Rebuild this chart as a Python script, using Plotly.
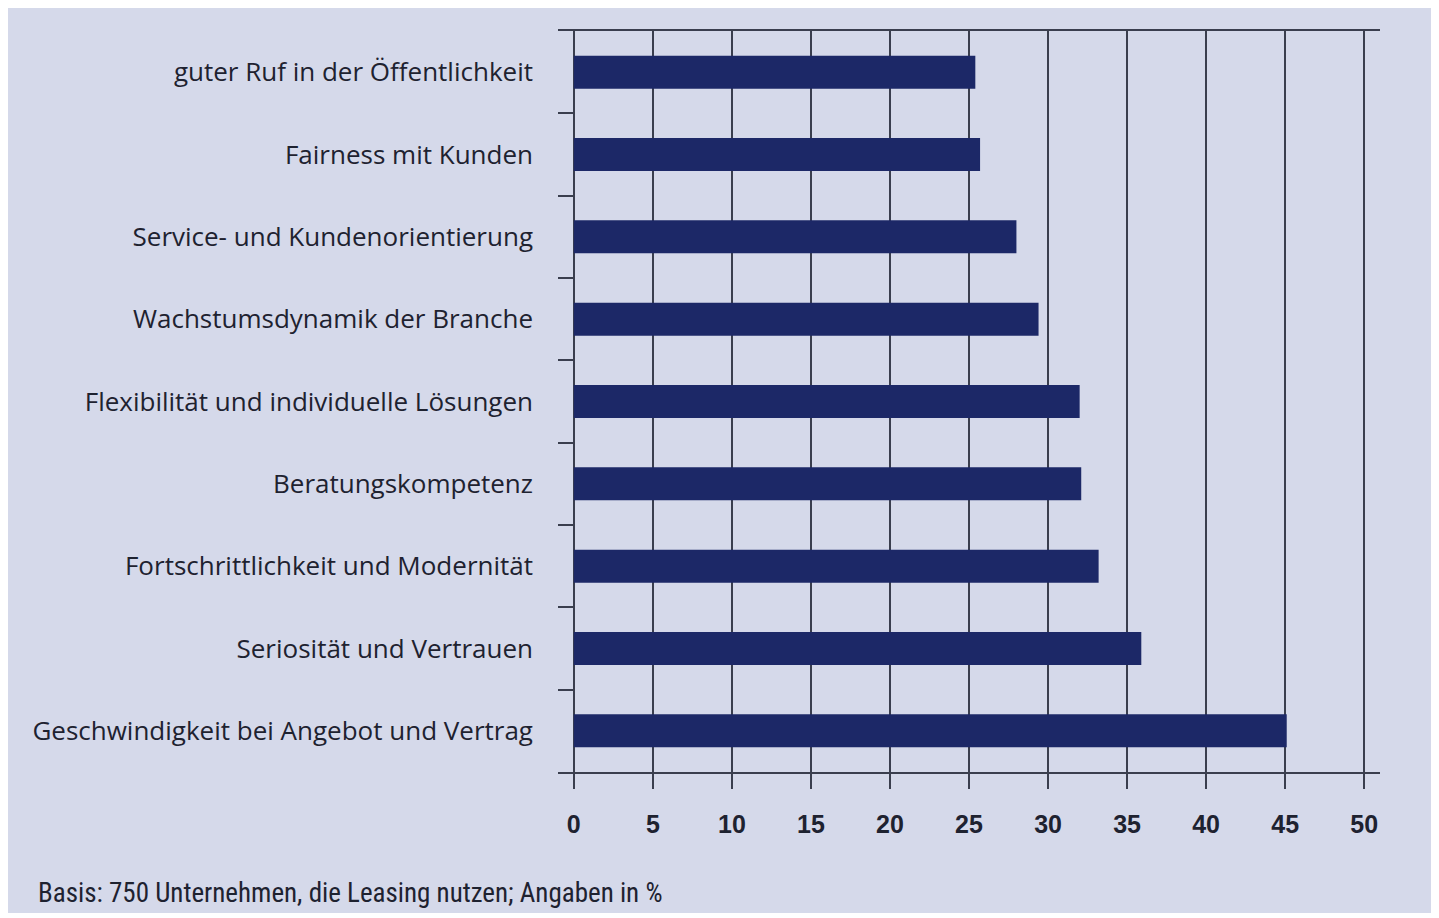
import plotly.graph_objects as go

categories = [
    "guter Ruf in der Öffentlichkeit",
    "Fairness mit Kunden",
    "Service- und Kundenorientierung",
    "Wachstumsdynamik der Branche",
    "Flexibilität und individuelle Lösungen",
    "Beratungskompetenz",
    "Fortschrittlichkeit und Modernität",
    "Seriosität und Vertrauen",
    "Geschwindigkeit bei Angebot und Vertrag",
]
values = [25.4, 25.7, 28.0, 29.4, 32.0, 32.1, 33.2, 35.9, 45.1]
x_ticks = [0, 5, 10, 15, 20, 25, 30, 35, 40, 45, 50]
footnote = "Basis: 750 Unternehmen, die Leasing nutzen; Angaben in %"

BG = "#d5d9ea"
BAR = "#1c2867"
LINE = "#3a3e4e"
TEXT = "#1e2230"

fig = go.Figure(go.Bar(
    y=categories, x=values, orientation="h",
    marker=dict(color=BAR, line=dict(width=0)),
    width=0.4,
))

# page has an 8px body margin; work in figure pixels = page pixels - 8
OFF = 8
W, H = 1439 - OFF, 918 - OFF
L, R, T, B = 558 - OFF, 1380 - OFF, 31 - OFF, 772 - OFF

def px_x(p):
    return (p - OFF - L) / (R - L)

def px_y(p):
    return (B - (p - OFF)) / (B - T)

fig.update_layout(
    width=W, height=H,
    margin=dict(l=L, r=W - R, t=T, b=H - B, pad=0),
    paper_bgcolor="white",
    plot_bgcolor=BG,
    showlegend=False,
    xaxis=dict(
        range=[-1, 51], tickvals=x_ticks, ticktext=[str(v) for v in x_ticks],
        showgrid=True, gridcolor=LINE, gridwidth=1.5,
        zeroline=False,
        showline=True, linecolor=LINE, linewidth=1.5, mirror=True,
        ticks="outside", ticklen=15, tickwidth=1.5, tickcolor=LINE,
        tickfont=dict(family="Liberation Sans, Arial, sans-serif", size=25, color=TEXT, weight="bold"),
        ticklabelstandoff=14,
    ),
    yaxis=dict(
        type="category", categoryorder="array", categoryarray=categories,
        range=[len(categories) - 0.5, -0.5],
        tickson="boundaries",
        ticks="inside", ticklen=16, tickwidth=1.5, tickcolor=LINE,
        showgrid=False, zeroline=False, showline=False,
        tickfont=dict(family="Open Sans, Noto Sans, sans-serif", size=26, color=TEXT),
        ticklabelstandoff=24,
    ),
    shapes=[dict(
        type="rect", xref="paper", yref="paper", layer="below",
        x0=px_x(0), x1=px_x(1460), y0=px_y(913), y1=px_y(0),
        fillcolor=BG, line=dict(width=0),
    )],
    annotations=[dict(
        text=footnote, xref="paper", yref="paper",
        x=px_x(36), y=px_y(893), xanchor="left", yanchor="middle",
        showarrow=False,
        font=dict(family="Liberation Sans Narrow, Roboto Condensed, Roboto, sans-serif", size=27, color=TEXT),
    )],
)

fig.write_html("out.html")
